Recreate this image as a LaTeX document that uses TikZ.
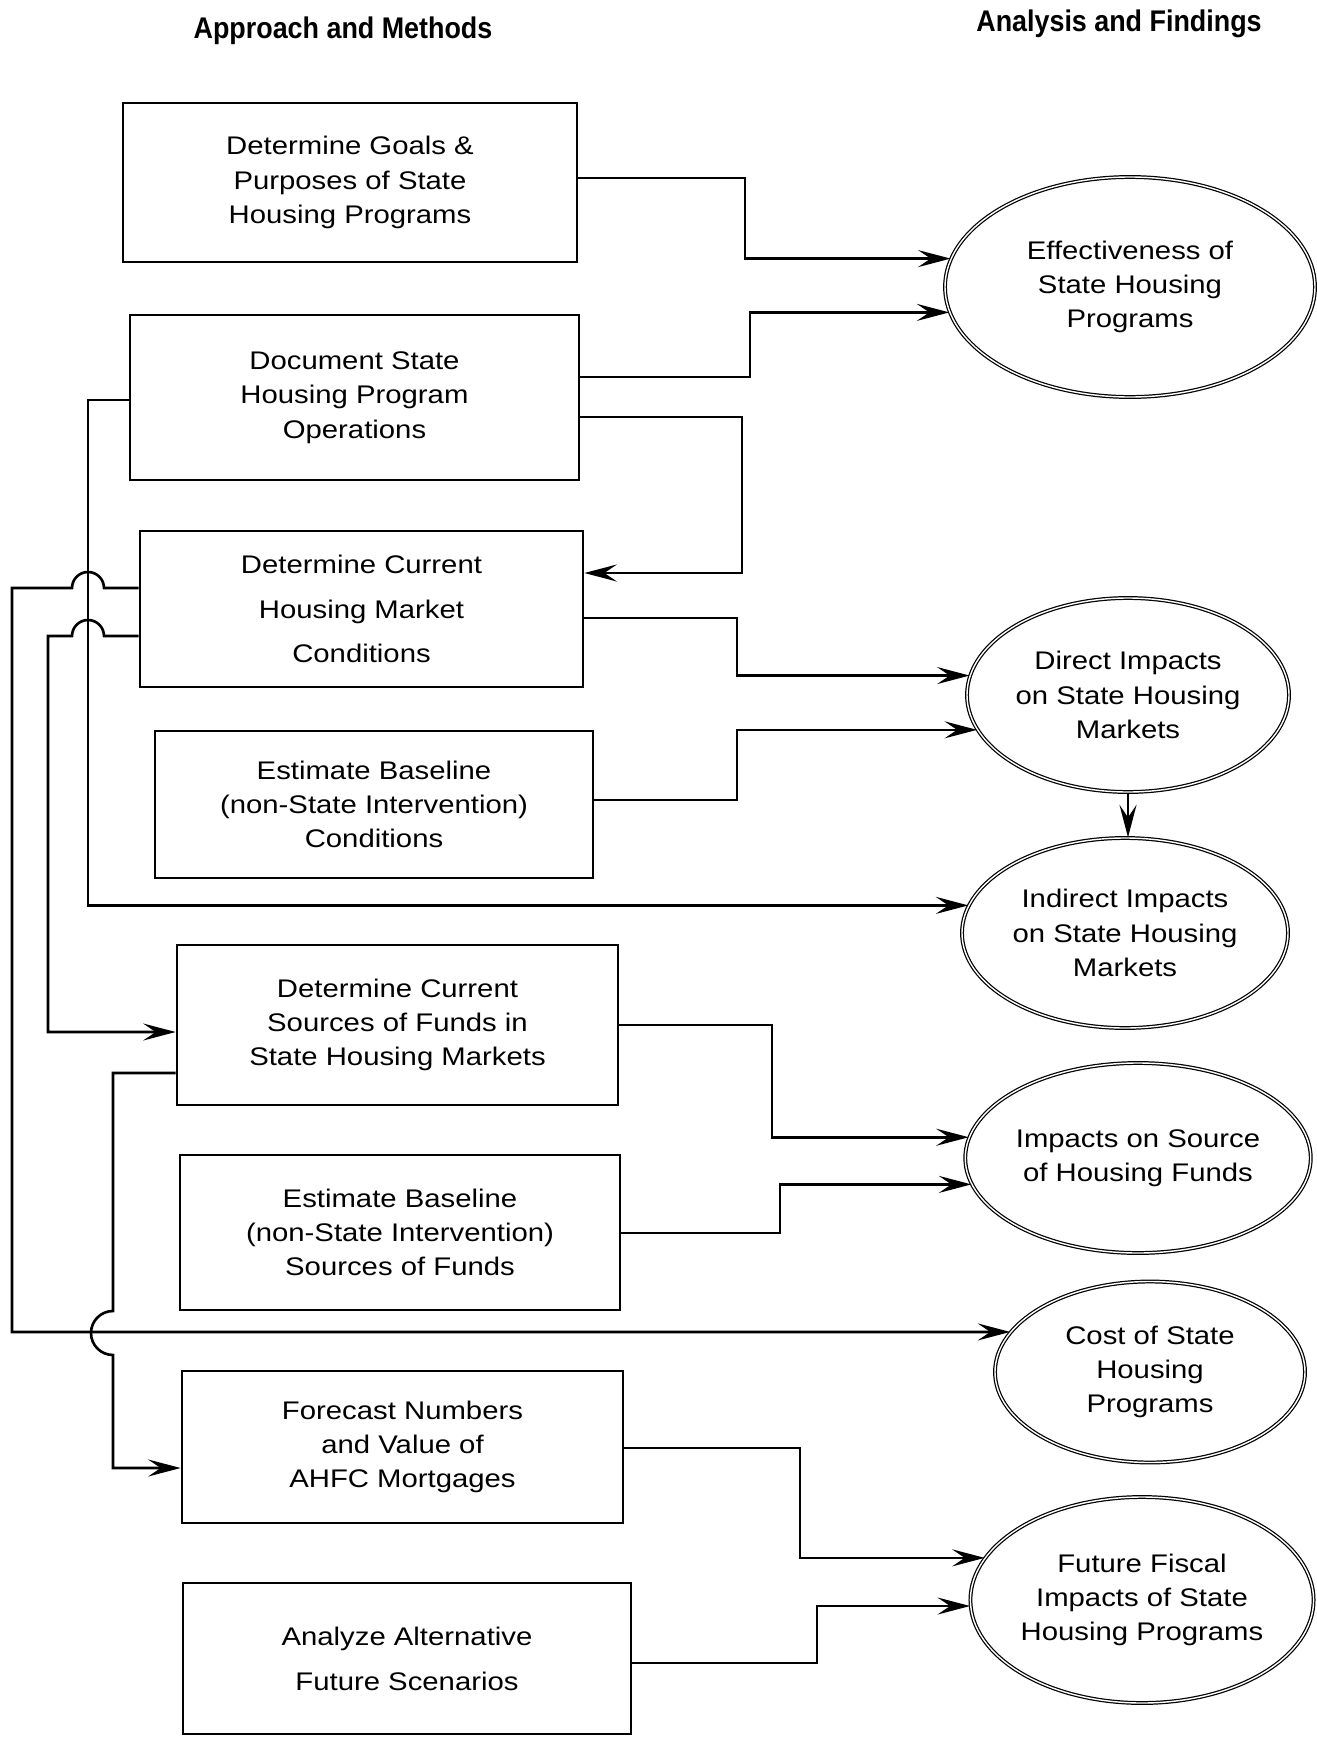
\documentclass[tikz,border=0pt]{standalone}
\usepackage{fontspec}
\setmainfont{Liberation Sans}[FakeStretch=1.15]
\newfontfamily\headfont{Liberation Sans}[FakeStretch=0.9]
\usetikzlibrary{shapes.geometric,arrows.meta}

\begin{document}
\begin{tikzpicture}[x=0.2mm, y=-0.2mm, line width=1.5pt,
    >={Stealth[length=6.5mm,width=3.4mm,inset=2.5mm]},
    head/.style={font=\headfont\bfseries\fontsize{17}{20}\selectfont},
    box/.style={draw, rectangle, align=center, inner sep=0pt, font=\fontsize{14.5}{19.5}\selectfont},
    airy/.style={font=\fontsize{14.5}{25.5}\selectfont},
    finding/.style={draw, ellipse, double, line width=0.7pt, double distance=0.8pt,
      align=center, inner sep=0pt, font=\fontsize{14.5}{19.5}\selectfont}]
  \useasboundingbox (0,0) rectangle (1317,1737);

  \node (approach) at ( 343, 31) [head] {Approach and Methods};
  \node (analysis) at (1119, 24) [head] {Analysis and Findings};

  % approach and methods
  \node (b1) at (350,182.5) [box, minimum width=90.8mm, minimum height=31.8mm]
    {Determine Goals \&\\Purposes of State\\Housing Programs};
  \node (b2) at (354.5,397.5) [box, minimum width=89.8mm, minimum height=33mm]
    {Document State\\Housing Program\\Operations};
  \node (b3) at (361.5,609) [box, airy, minimum width=88.6mm, minimum height=31.2mm]
    {Determine Current\\Housing Market\\Conditions};
  \node (b4) at (374,804.5) [box, minimum width=87.6mm, minimum height=29.4mm]
    {Estimate Baseline\\(non-State Intervention)\\Conditions};
  \node (b5) at (397.5,1025) [box, minimum width=88.2mm, minimum height=32mm]
    {Determine Current\\Sources of Funds in\\State Housing Markets};
  \node (b6) at (400,1232.5) [box, minimum width=88mm, minimum height=31mm]
    {Estimate Baseline\\(non-State Intervention)\\Sources of Funds};
  \node (b7) at (402.5,1447) [box, minimum width=88.2mm, minimum height=30.4mm]
    {Forecast Numbers\\and Value of\\AHFC Mortgages};
  \node (b8) at (407,1658.5) [box, airy, minimum width=89.6mm, minimum height=30.2mm]
    {Analyze Alternative\\Future Scenarios};

  % analysis and findings
  \node (e1) at (1130,287) [finding, minimum width=74mm, minimum height=44mm]
    {Effectiveness of\\State Housing\\Programs};
  \node (e2) at (1128,695) [finding, minimum width=64.4mm, minimum height=38.8mm]
    {Direct Impacts\\on State Housing\\Markets};
  \node (e3) at (1125,933) [finding, minimum width=65.2mm, minimum height=38mm]
    {Indirect Impacts\\on State Housing\\Markets};
  \node (e4) at (1138,1158) [finding, minimum width=65.2mm, minimum height=38mm]
    {Impacts on Source\\of Housing Funds};
  \node (e5) at (1150,1372) [finding, minimum width=62mm, minimum height=36.2mm]
    {Cost of State\\Housing\\Programs};
  \node (e6) at (1142,1600) [finding, minimum width=68mm, minimum height=41.2mm]
    {Future Fiscal\\Impacts of State\\Housing Programs};

  % connectors to the right
  \draw[->] (b1.east |- 0,178) -| (745,0 |- e1.171) -- (e1.171);
  \draw[->] (b2.east |- 0,377) -| (750,0 |- e1.188) -- (e1.188);
  \draw[->] (b2.east |- 0,417) -| (742,573) -- (b3.east |- 0,573);
  \draw[->] (b3.east |- 0,618) -| (737,0 |- e2.173) -- (e2.173);
  \draw[->] (b4.east |- 0,800) -| (737,0 |- e2.193) -- (e2.193);
  \draw[->] (e2.south) -- (e2.south |- e3.north);
  \draw[->] (b5.east |- 0,1025) -| (772,0 |- e4.173) -- (e4.173);
  \draw[->] (b6.east |- 0,1233) -| (780,0 |- e4.189) -- (e4.189);
  \draw[->] (b7.east |- 0,1448) -| (800,0 |- e6.165) -- (e6.165);
  \draw[->] (b8.east |- 0,1663) -| (817,0 |- e6.182) -- (e6.182);

  % feedback lines on the left, with hops
  \draw[->] (b2.west |- 0,400) -| (88,0 |- e3.170) -- (e3.170);
  \draw[->] (b3.west |- 0,588) -- (104,588) arc[start angle=0, end angle=-180, radius=16]
    -- (12,588) -- (12,0 |- e5.164) -- (e5.164);
  \draw[->] (b3.west |- 0,636) -- (104,636) arc[start angle=0, end angle=-180, radius=16]
    -- (48,636) -- (48,1032) -- (b5.west |- 0,1032);
  \draw[->] (b5.west |- 0,1073) -| (113,1311) arc[start angle=-90, end angle=-270, radius=22]
    -- (113,1468) -- (b7.west |- 0,1468);
\end{tikzpicture}
\end{document}
